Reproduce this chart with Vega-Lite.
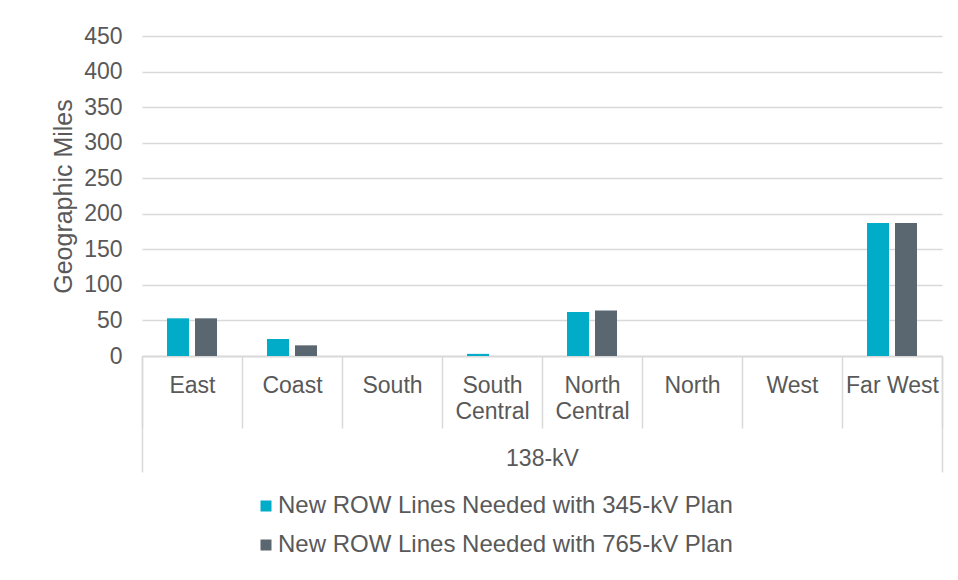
{
  "$schema": "https://vega.github.io/schema/vega-lite/v6.json",
  "autosize": {"type": "none"},
  "width": 800,
  "height": 320,
  "padding": {"left": 142, "top": 36, "right": 16, "bottom": 224},
  "background": "#ffffff",
  "config": {
    "font": "Liberation Sans",
    "view": {"stroke": null},
    "axis": {"labelColor": "#595959", "titleColor": "#595959", "labelFontSize": 23, "titleFontWeight": "normal"}
  },
  "layer": [
    {
      "data": {
        "values": [
          {"region": "East", "series": "New ROW Lines Needed with 345-kV Plan", "miles": 53},
          {"region": "East", "series": "New ROW Lines Needed with 765-kV Plan", "miles": 53},
          {"region": "Coast", "series": "New ROW Lines Needed with 345-kV Plan", "miles": 24},
          {"region": "Coast", "series": "New ROW Lines Needed with 765-kV Plan", "miles": 15},
          {"region": "South", "series": "New ROW Lines Needed with 345-kV Plan", "miles": 0},
          {"region": "South", "series": "New ROW Lines Needed with 765-kV Plan", "miles": 0},
          {"region": "South Central", "series": "New ROW Lines Needed with 345-kV Plan", "miles": 3},
          {"region": "South Central", "series": "New ROW Lines Needed with 765-kV Plan", "miles": 0},
          {"region": "North Central", "series": "New ROW Lines Needed with 345-kV Plan", "miles": 62},
          {"region": "North Central", "series": "New ROW Lines Needed with 765-kV Plan", "miles": 64},
          {"region": "North", "series": "New ROW Lines Needed with 345-kV Plan", "miles": 0},
          {"region": "North", "series": "New ROW Lines Needed with 765-kV Plan", "miles": 0},
          {"region": "West", "series": "New ROW Lines Needed with 345-kV Plan", "miles": 0},
          {"region": "West", "series": "New ROW Lines Needed with 765-kV Plan", "miles": 0},
          {"region": "Far West", "series": "New ROW Lines Needed with 345-kV Plan", "miles": 187},
          {"region": "Far West", "series": "New ROW Lines Needed with 765-kV Plan", "miles": 187}
        ]
      },
      "mark": {"type": "bar"},
      "encoding": {
        "x": {
          "field": "region",
          "type": "nominal",
          "sort": null,
          "scale": {"paddingInner": 0, "paddingOuter": 0},
          "axis": {
            "orient": "bottom",
            "title": null,
            "labelAngle": 0,
            "labelBaseline": "top",
            "labelPadding": -54,
            "labelLineHeight": 26,
            "labelOverlap": false,
            "labelFlush": false,
            "labelExpr": "datum.value == 'South Central' ? ['South', 'Central'] : datum.value == 'North Central' ? ['North', 'Central'] : datum.value",
            "tickBand": "extent",
            "tickSize": 72,
            "tickColor": "#d9d9d9",
            "tickWidth": 1.5,
            "domainColor": "#d9d9d9",
            "domainWidth": 1.5,
            "grid": false
          }
        },
        "xOffset": {
          "field": "series",
          "type": "nominal",
          "scale": {"paddingInner": 0.214, "paddingOuter": 0.893}
        },
        "y": {
          "field": "miles",
          "type": "quantitative",
          "scale": {"domain": [0, 450], "nice": false},
          "axis": {
            "title": "Geographic Miles",
            "titleFontSize": 25,
            "titlePadding": 7,
            "values": [0, 50, 100, 150, 200, 250, 300, 350, 400, 450],
            "domain": false,
            "ticks": false,
            "labelPadding": 20,
            "gridColor": "#d9d9d9",
            "gridWidth": 1.5
          }
        },
        "color": {
          "field": "series",
          "type": "nominal",
          "scale": {"range": ["#00acc7", "#5b6770"]},
          "legend": {
            "orient": "none",
            "legendX": 112,
            "legendY": 458,
            "direction": "vertical",
            "title": null,
            "symbolType": "square",
            "symbolSize": 121,
            "symbolStrokeWidth": 0,
            "labelFontSize": 24,
            "labelColor": "#595959",
            "labelOffset": 0,
            "labelLimit": 700,
            "rowPadding": 15
          }
        }
      }
    },
    {
      "data": {"values": [{"group": "138-kV"}]},
      "mark": {"type": "point", "opacity": 0},
      "encoding": {
        "x": {
          "field": "group",
          "type": "nominal",
          "scale": {"paddingInner": 0, "paddingOuter": 0},
          "axis": {
            "orient": "bottom",
            "title": null,
            "labelAngle": 0,
            "labelBaseline": "top",
            "labelPadding": -25,
            "labelFontSize": 23,
            "tickBand": "extent",
            "tickSize": 116,
            "tickColor": "#d9d9d9",
            "tickWidth": 1.5,
            "domainColor": "#d9d9d9",
            "domainWidth": 1.5,
            "grid": false
          }
        }
      }
    }
  ],
  "resolve": {"scale": {"x": "independent"}}
}
